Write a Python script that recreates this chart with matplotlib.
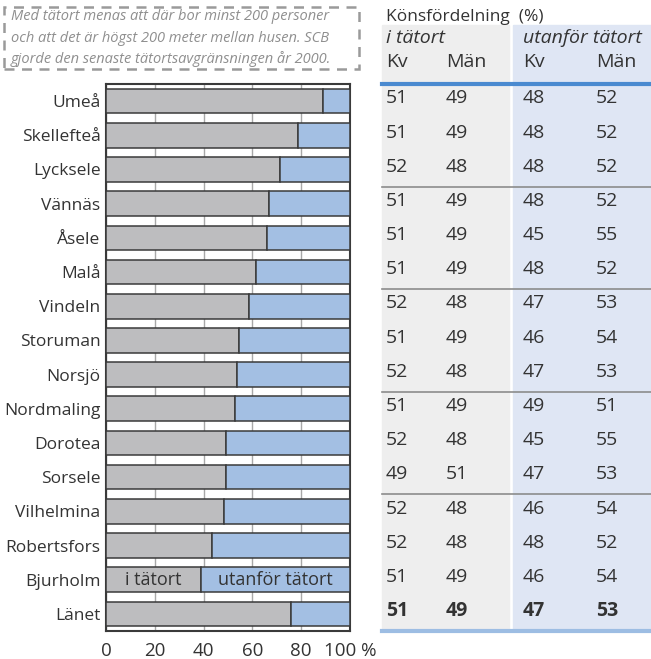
import numpy as np
import matplotlib.pyplot as plt
from matplotlib.patches import Rectangle
import matplotlib as mpl

mpl.rcParams['font.family'] = ['Open Sans', 'DejaVu Sans']

kommuner = ['Umeå', 'Skellefteå', 'Lycksele', 'Vännäs', 'Åsele', 'Malå', 'Vindeln',
            'Storuman', 'Norsjö', 'Nordmaling', 'Dorotea', 'Sorsele', 'Vilhelmina',
            'Robertsfors', 'Bjurholm', 'Länet']
i_tatort = [89, 78.5, 71.5, 67, 66, 61.5, 58.5, 54.5, 53.5, 53, 49, 49, 48.5, 43.5, 39, 76]
utanfor = [100 - v for v in i_tatort]

kv_i = [51, 51, 52, 51, 51, 51, 52, 51, 52, 51, 52, 49, 52, 52, 51, 51]
man_i = [49, 49, 48, 49, 49, 49, 48, 49, 48, 49, 48, 51, 48, 48, 49, 49]
kv_u = [48, 48, 48, 48, 45, 48, 47, 46, 47, 49, 45, 47, 46, 48, 46, 47]
man_u = [52, 52, 52, 52, 55, 52, 53, 54, 53, 51, 55, 53, 54, 52, 54, 53]

xticks = [0, 20, 40, 60, 80, 100]
xticklabels = ['0', '20', '40', '60', '80', '100 %']

GRAY = '#bdbdbf'
BLUE = '#a3bfe3'
EDGE = '#3a3a3a'
TXT = '#333333'

W, H = 651, 659
fig = plt.figure(figsize=(W / 100, H / 100), dpi=100)

top, bot = 84, 631
ax = fig.add_axes([106 / W, 1 - bot / H, 244 / W, (bot - top) / H])
y = np.arange(len(kommuner))
ax.barh(y, i_tatort, height=0.72, color=GRAY, edgecolor=EDGE, linewidth=1.1, zorder=3)
ax.barh(y, utanfor, left=i_tatort, height=0.72, color=BLUE, edgecolor=EDGE, linewidth=1.1, zorder=3)
ax.set_xlim(0, 100)
ax.set_ylim(len(kommuner) - 0.5, -0.5)
ax.set_yticks(y)
ax.set_yticklabels(kommuner, fontsize=12.5, color=TXT)
ax.set_xticks(xticks)
ax.set_xticklabels(xticklabels, fontsize=13.5, color=TXT)
ax.tick_params(axis='y', length=0, pad=4)
ax.tick_params(axis='x', length=0, pad=8)
ax.xaxis.grid(True, color='#a8a8a8', linewidth=1, zorder=0)
for s in ax.spines.values():
    s.set_color(EDGE)
    s.set_linewidth(1.5)

# labels inside Bjurholm bar
bj = kommuner.index('Bjurholm')
ax.text(i_tatort[bj] / 2, bj, 'i tätort', ha='center', va='center', fontsize=13, color=TXT, zorder=4)
ax.text(i_tatort[bj] + utanfor[bj] / 2, bj, 'utanför tätort', ha='center', va='center',
        fontsize=13, color=TXT, zorder=4)

# table to the right
tx0 = 382
tab = fig.add_axes([tx0 / W, 1 - bot / H, (W - tx0) / W, (bot - top) / H], sharey=ax)
tab.set_xlim(0, W - tx0)
tab.axis('off')
row_px = (bot - top) / len(kommuner)
ytop = -0.5 - (top - 25) / row_px
tab.add_patch(Rectangle((0, ytop), 127, 15.5 - ytop, color='#eeeeee', clip_on=False, zorder=0))
tab.add_patch(Rectangle((131, ytop), W - tx0 - 131, 15.5 - ytop, color='#dfe6f4', clip_on=False, zorder=0))

def ypx(p):
    return -0.5 - (top - p) / row_px

FS = 14
tab.text(4, ypx(17), 'Könsfördelning  (%)', fontsize=12.5, color=TXT, va='center', clip_on=False)
tab.text(4, ypx(38), 'i tätort', fontsize=FS, color=TXT, va='center', style='italic', clip_on=False)
tab.text(141, ypx(38), 'utanför tätort', fontsize=FS, color=TXT, va='center', style='italic', clip_on=False)
colx = [4, 64, 141, 214]
for cx, lab in zip(colx, ['Kv', 'Män', 'Kv', 'Män']):
    tab.text(cx, ypx(62), lab, fontsize=FS, color=TXT, va='center', clip_on=False)

tab.plot([0, W - tx0], [-0.5, -0.5], color='#4a8ad0', linewidth=3, clip_on=False, zorder=2)
tab.plot([0, W - tx0], [15.5, 15.5], color='#9dbde3', linewidth=3, clip_on=False, zorder=2)
for sep in [2.5, 5.5, 8.5, 11.5]:
    tab.plot([0, W - tx0], [sep, sep], color='#8c8c8c', linewidth=1.2, clip_on=False, zorder=2)

for i in range(len(kommuner)):
    bold = 'bold' if kommuner[i] == 'Länet' else 'normal'
    for cx, vals in zip(colx, [kv_i, man_i, kv_u, man_u]):
        tab.text(cx, i - 0.08, str(vals[i]), fontsize=FS, color=TXT, va='center',
                 fontweight=bold, clip_on=False)

# annotation box
fig.patches.append(Rectangle((4 / W, 1 - 69 / H), 355 / W, 62 / H, transform=fig.transFigure,
                             fill=False, edgecolor='#9a9a9a', linewidth=1.8, linestyle=(0, (4, 3))))
note = ['Med tätort menas att där bor minst 200 personer',
        'och att det är högst 200 meter mellan husen. SCB',
        'gjorde den senaste tätortsavgränsningen år 2000.']
for k, line in enumerate(note):
    fig.text(11 / W, 1 - (17 + k * 21) / H, line, fontsize=10.5, style='italic', color='#8f8f8f', va='center')

fig.savefig('out.png', dpi=100)
